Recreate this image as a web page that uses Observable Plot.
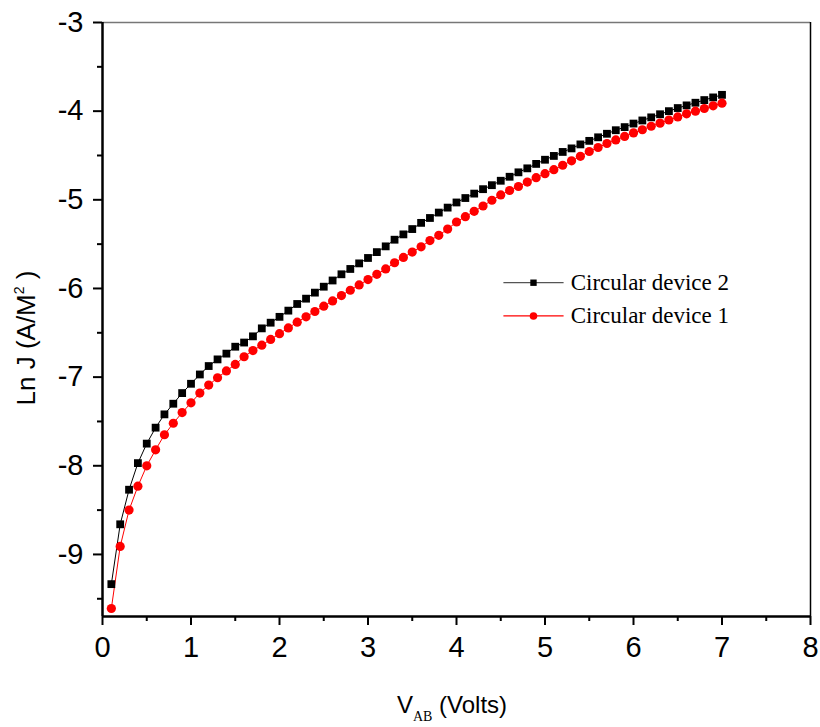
<!DOCTYPE html>
<html>
<head>
<meta charset="utf-8">
<script src="https://cdn.jsdelivr.net/npm/d3@7"></script>
<script src="https://cdn.jsdelivr.net/npm/@observablehq/plot@0.6"></script>
<style>
  body { margin: 0; background: #fff; }
  #chart svg { display: block; }
</style>
</head>
<body>
<div id="chart"></div>
<script>
// Voltage V_AB (Volts)
const voltage = [0.1,0.2,0.3,0.4,0.5,0.6,0.7,0.8,0.9,1.0,1.1,1.2,1.3,1.4,1.5,1.6,1.7,1.8,1.9,2.0,
  2.1,2.2,2.3,2.4,2.5,2.6,2.7,2.8,2.9,3.0,3.1,3.2,3.3,3.4,3.5,3.6,3.7,3.8,3.9,4.0,
  4.1,4.2,4.3,4.4,4.5,4.6,4.7,4.8,4.9,5.0,5.1,5.2,5.3,5.4,5.5,5.6,5.7,5.8,5.9,6.0,
  6.1,6.2,6.3,6.4,6.5,6.6,6.7,6.8,6.9,7.0];
// Ln J, Circular device 2 (black squares)
const device2 = [-9.335,-8.66,-8.27,-7.97,-7.75,-7.57,-7.42,-7.30,-7.18,-7.075,-6.97,-6.875,-6.80,-6.735,-6.657,-6.61,-6.54,-6.45,-6.386,-6.32,
  -6.25,-6.175,-6.115,-6.047,-5.98,-5.91,-5.84,-5.78,-5.717,-5.656,-5.59,-5.525,-5.45,-5.39,-5.33,-5.26,-5.205,-5.144,-5.088,-5.03,
  -4.98,-4.93,-4.88,-4.835,-4.785,-4.74,-4.69,-4.645,-4.595,-4.548,-4.505,-4.46,-4.42,-4.375,-4.335,-4.295,-4.255,-4.215,-4.18,-4.14,
  -4.105,-4.07,-4.035,-4.00,-3.965,-3.935,-3.905,-3.875,-3.845,-3.816];
// Ln J, Circular device 1 (red circles)
const device1 = [-9.61,-8.91,-8.50,-8.23,-8.00,-7.82,-7.65,-7.52,-7.40,-7.29,-7.18,-7.09,-7.007,-6.93,-6.857,-6.77,-6.70,-6.64,-6.575,-6.51,
  -6.445,-6.38,-6.32,-6.26,-6.20,-6.14,-6.08,-6.02,-5.96,-5.90,-5.84,-5.78,-5.71,-5.65,-5.59,-5.53,-5.46,-5.40,-5.33,-5.25,
  -5.19,-5.13,-5.07,-5.005,-4.945,-4.895,-4.85,-4.80,-4.75,-4.705,-4.66,-4.61,-4.56,-4.51,-4.455,-4.41,-4.365,-4.325,-4.285,-4.245,
  -4.21,-4.17,-4.135,-4.10,-4.065,-4.03,-4.00,-3.97,-3.94,-3.91];
const xTicks = [0,1,2,3,4,5,6,7,8];
const yTicks = [-3,-4,-5,-6,-7,-8,-9];
const seriesNames = ["Circular device 2", "Circular device 1"];

const xDomain = [0, 8];
const yDomain = [-9.7, -3];

const rows = [];
voltage.forEach((v, i) => {
  rows.push({v, j: device2[i], s: seriesNames[0]});
  rows.push({v, j: device1[i], s: seriesNames[1]});
});
const d2 = rows.filter(d => d.s === seriesNames[0]);
const d1 = rows.filter(d => d.s === seriesNames[1]);

const xMinor = d3.range(0.5, 8, 1);
const yMinor = d3.range(-3.5, -9.7, -1);

// legend layout (in data units inside the frame)
const legX1 = 4.53, legX2 = 5.21, legTextX = 5.29;
const legY = [-5.935, -6.31];
const legend = seriesNames.map((s, i) => ({s, y: legY[i]}));

const tickFont = "'Liberation Sans', Arial, sans-serif";

const chart = Plot.plot({
  width: 820,
  height: 727,
  marginLeft: 102,
  marginRight: 10,
  marginTop: 22,
  marginBottom: 111,
  style: {background: "#fff", color: "#000"},
  x: {domain: xDomain, label: null},
  y: {domain: yDomain, label: null},
  marks: [
    // frame
    Plot.ruleY([yDomain[1]], {stroke: "#777", strokeWidth: 1.5}),
    Plot.ruleX([xDomain[1]], {stroke: "#000", strokeWidth: 1.5}),
    // minor ticks
    Plot.axisX(xMinor, {tickSize: 5, text: null, strokeWidth: 2, label: null}),
    Plot.axisY(yMinor, {tickSize: 5, text: null, strokeWidth: 2, label: null}),
    // major ticks
    Plot.axisX(xTicks, {tickSize: 9, strokeWidth: 2, tickPadding: 11, tickFormat: d => String(d),
      fontSize: 29, fontFamily: tickFont, label: null}),
    Plot.axisY(yTicks, {tickSize: 9, strokeWidth: 2, tickPadding: 10, tickFormat: d => String(d),
      fontSize: 29, fontFamily: tickFont, label: null}),
    Plot.ruleX([xDomain[0]], {stroke: "#000", strokeWidth: 2.5}),
    Plot.ruleY([yDomain[0]], {stroke: "#000", strokeWidth: 2.5}),
    // data
    Plot.line(d2, {x: "v", y: "j", stroke: "#000", strokeWidth: 1}),
    Plot.line(d1, {x: "v", y: "j", stroke: "#ff0000", strokeWidth: 1}),
    Plot.dot(d2, {x: "v", y: "j", symbol: "square", r: 4.4, fill: "#000", stroke: "none"}),
    Plot.dot(d1, {x: "v", y: "j", symbol: "circle", r: 4.6, fill: "#ff0000", stroke: "none"}),
    // legend
    Plot.link(legend, {x1: () => legX1, x2: () => legX2, y1: "y", y2: "y",
      stroke: (d, i) => i === 0 ? "#555" : "#ff0000", strokeWidth: 1.2}),
    Plot.dot(legend.slice(0,1), {x: () => (legX1 + legX2) / 2, y: "y", symbol: "square", r: 3.6, fill: "#000"}),
    Plot.dot(legend.slice(1), {x: () => (legX1 + legX2) / 2, y: "y", symbol: "circle", r: 3.8, fill: "#ff0000"}),
    Plot.text(legend, {x: () => legTextX, y: "y", text: "s", textAnchor: "start",
      fontSize: 23, fontFamily: "'Liberation Serif', 'Times New Roman', serif", fill: "#000"})
  ]
});

// axis titles with super/subscripts
const svg = d3.select(chart);
const yl = svg.append("text")
  .attr("transform", "translate(35,338) rotate(-90)")
  .attr("text-anchor", "middle")
  .attr("font-family", tickFont)
  .attr("font-size", 26)
  .attr("fill", "#000");
yl.append("tspan").text("Ln J (A/M");
yl.append("tspan").attr("font-size", 14).attr("dy", -11).text("2");
yl.append("tspan").attr("dy", 11).text(" )");

const xl = svg.append("text")
  .attr("x", 452).attr("y", 713)
  .attr("text-anchor", "middle")
  .attr("font-family", tickFont)
  .attr("font-size", 24)
  .attr("fill", "#000");
xl.append("tspan").text("V");
xl.append("tspan").attr("font-size", 14).attr("dy", 8)
  .attr("font-family", "'Liberation Serif', 'Times New Roman', serif").text("AB");
xl.append("tspan").attr("dy", -8).text(" (Volts)");

document.getElementById("chart").append(chart);
</script>
</body>
</html>
